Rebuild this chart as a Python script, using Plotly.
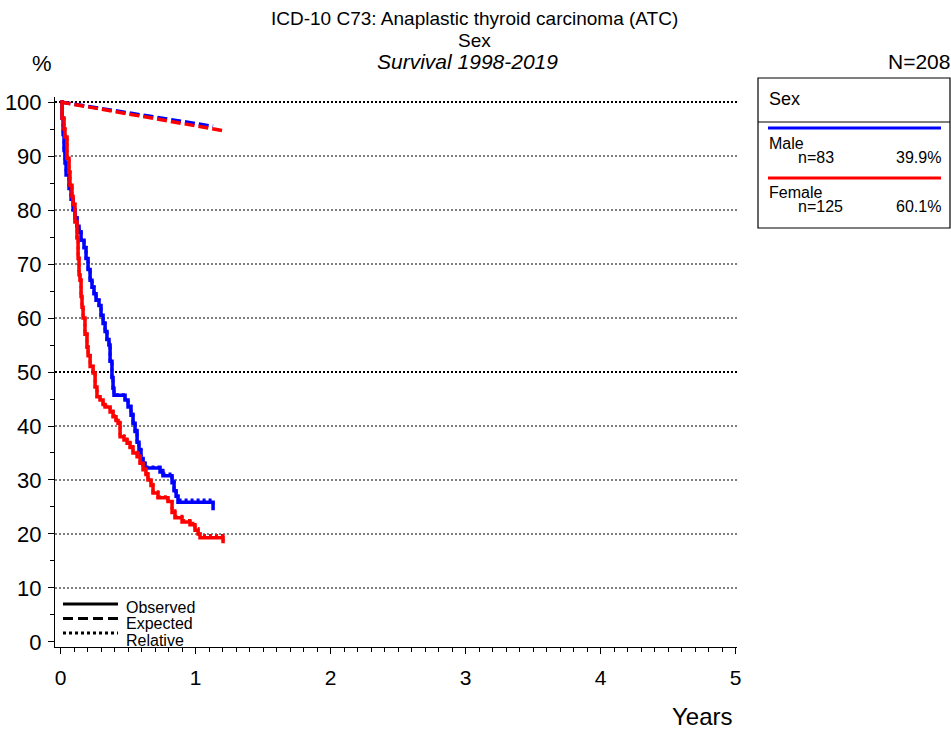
import plotly.graph_objects as go

# ---------------- data ----------------
male_time = [0.000, 0.011, 0.019, 0.026, 0.033, 0.041, 0.063, 0.078, 0.093, 0.107,
             0.122, 0.137, 0.152, 0.174, 0.189, 0.204, 0.219, 0.233, 0.248, 0.263,
             0.285, 0.300, 0.315, 0.330, 0.344, 0.359, 0.367, 0.381, 0.389, 0.396,
             0.478, 0.500, 0.522, 0.537, 0.552, 0.567, 0.581, 0.596, 0.611, 0.626,
             0.737, 0.759, 0.826, 0.841, 0.856, 0.870, 1.130]
male_observed = [100, 97, 94, 91, 88.7, 86.5, 84, 82, 80, 78.5,
                 77, 75.9, 74.4, 73, 71, 69, 67, 65.7, 64.5, 63.3,
                 62.3, 60.5, 59, 57.5, 56, 55, 52, 49, 47, 45.7,
                 44.8, 43.5, 42, 40.5, 39, 37, 35.5, 34, 33, 32.2,
                 31.5, 30.8, 29.5, 28, 27, 25.9, 24.4]
male_relative = [100, 97, 94, 91, 88.8, 86.6, 84.1, 82.1, 80.1, 78.6,
                 77.1, 76, 74.5, 73.1, 71.1, 69.1, 67.1, 65.8, 64.6, 63.4,
                 62.4, 60.6, 59.1, 57.6, 56.1, 55.1, 52.1, 49.1, 47.1, 45.8,
                 45, 43.7, 42.2, 40.7, 39.2, 37.2, 35.7, 34.2, 33.2, 32.4,
                 31.8, 31.1, 29.8, 28.3, 27.3, 26.3, 24.8]
male_exp_time = [0, 0.5, 1.0, 1.13]
male_expected = [100, 98.0, 96.0, 95.5]

female_time = [0.000, 0.011, 0.026, 0.033, 0.048, 0.063, 0.070, 0.085, 0.093, 0.107,
               0.122, 0.130, 0.137, 0.144, 0.152, 0.159, 0.167, 0.181, 0.196, 0.204,
               0.219, 0.241, 0.256, 0.270, 0.293, 0.315, 0.330, 0.367, 0.389, 0.411,
               0.426, 0.441, 0.470, 0.493, 0.515, 0.537, 0.567, 0.589, 0.611, 0.633,
               0.648, 0.670, 0.685, 0.722, 0.796, 0.826, 0.848, 0.900, 0.959, 0.996,
               1.019, 1.033, 1.204]
female_observed = [100, 97, 95, 93.5, 89.6, 87, 84.6, 82.5, 81, 77.8,
                   74.8, 71, 68, 67, 64, 62, 60, 57, 54.6, 53,
                   51, 49.8, 47.2, 45.4, 44.8, 44, 43.5, 42.6, 41.7, 41,
                   40.5, 38, 37.4, 36.8, 36, 35, 34.3, 33.1, 31.9, 31,
                   30, 29, 27.6, 26.7, 26, 24, 23, 22.2, 21.7, 20.7,
                   20, 19.3, 18.3]
female_relative = [100, 97, 95, 93.5, 89.7, 87.1, 84.7, 82.6, 81.1, 77.9,
                   74.9, 71.1, 68.1, 67.1, 64.1, 62.1, 60.1, 57.1, 54.7, 53.1,
                   51.1, 49.9, 47.3, 45.5, 44.9, 44.2, 43.7, 42.8, 41.9, 41.2,
                   40.7, 38.2, 37.6, 37, 36.2, 35.2, 34.5, 33.3, 32.1, 31.2,
                   30.2, 29.2, 27.8, 26.9, 26.3, 24.3, 23.3, 22.5, 22, 21,
                   20.4, 19.7, 18.7]
female_exp_time = [0, 0.5, 1.0, 1.204]
female_expected = [100, 97.8, 95.5, 94.7]

grid_values = [10, 20, 30, 40, 50, 60, 70, 80, 90, 100]
bold_grid = [50, 100]

groups = ["Male", "Female"]
group_n = ["n=83", "n=125"]
group_pct = ["39.9%", "60.1%"]
group_colors = ["#0000ff", "#ff0000"]

title_lines = ["ICD-10 C73: Anaplastic thyroid carcinoma (ATC)", "Sex", "Survival 1998-2019"]
line_types = ["Observed", "Expected", "Relative"]

# ---------------- layout geometry ----------------
W, H = 951, 731
L, R, T, B = 55, 737, 97, 647  # plot area in pixels
FONT = "Liberation Sans, Arial, sans-serif"


def px(x):
    return (x - L) / (R - L)


def py(y):
    return (B - y) / (B - T)


fig = go.Figure()

series = [
    (male_time, male_observed, male_relative, male_exp_time, male_expected, group_colors[0]),
    (female_time, female_observed, female_relative, female_exp_time, female_expected, group_colors[1]),
]
for t, obs, rel, et, ex, col in series:
    fig.add_trace(go.Scatter(x=et, y=ex, mode="lines",
                             line=dict(color=col, width=3.5, dash="10px,4px"),
                             hoverinfo="skip", showlegend=False))
for t, obs, rel, et, ex, col in series:
    fig.add_trace(go.Scatter(x=t, y=rel, mode="lines", line_shape="hv",
                             line=dict(color=col, width=3, dash="3px,3px"),
                             hoverinfo="skip", showlegend=False))
    fig.add_trace(go.Scatter(x=t, y=obs, mode="lines", line_shape="hv",
                             line=dict(color=col, width=3.5),
                             hoverinfo="skip", showlegend=False))

shapes = []
# dotted horizontal grid
for g in grid_values:
    w = 2 if g in bold_grid else 1.2
    shapes.append(dict(type="line", xref="paper", yref="y", x0=0, x1=1, y0=g, y1=g,
                       line=dict(color="black", width=w, dash="2px,2px"), layer="below"))

# right-hand legend box
shapes.append(dict(type="rect", xref="paper", yref="paper", x0=px(758), x1=px(950),
                   y0=py(228), y1=py(78), line=dict(color="black", width=1.2)))
shapes.append(dict(type="line", xref="paper", yref="paper", x0=px(758), x1=px(950),
                   y0=py(122), y1=py(122), line=dict(color="black", width=1.2)))
for i, (lab, col) in enumerate(zip(groups, group_colors)):
    ly = 128 + i * 50
    shapes.append(dict(type="line", xref="paper", yref="paper", x0=px(768), x1=px(941),
                       y0=py(ly), y1=py(ly), line=dict(color=col, width=3)))

# bottom-left line style legend
for i, d in enumerate(["solid", "10px,5px", "3px,3px"]):
    ly = 604 + i * 14.5
    shapes.append(dict(type="line", xref="paper", yref="paper", x0=px(63), x1=px(118),
                       y0=py(ly), y1=py(ly), line=dict(color="black", width=3, dash=d)))

ann = []


def text(x, y, s, size=14, xanchor="left", italic=False):
    ann.append(dict(x=px(x), y=py(y), xref="paper", yref="paper", text=s, showarrow=False,
                    xanchor=xanchor, yanchor="middle",
                    font=dict(family=FONT, size=size, color="black",
                              style="italic" if italic else "normal")))


text(474, 19, title_lines[0], size=19, xanchor="center")
text(474, 40, title_lines[1], size=19, xanchor="center")
text(467, 62, title_lines[2], size=21, xanchor="center", italic=True)
text(42, 64, "%", size=22, xanchor="center")
text(952, 62, "N=208", size=21, xanchor="right")
text(702, 716, "Years", size=24, xanchor="center")

text(767, 99, "Sex", size=18)
for i, (lab, n, pct) in enumerate(zip(groups, group_n, group_pct)):
    base = 143 + i * 49.5
    text(767, base, lab, size=16)
    text(796, base + 14.5, n, size=16)
    text(943, base + 14.5, pct, size=16, xanchor="right")

for i, lab in enumerate(line_types):
    text(124, 607 + i * 16.5, lab, size=16)

fig.update_layout(
    width=W, height=H,
    margin=dict(l=L, r=W - R, t=T, b=H - B, pad=0, autoexpand=False),
    paper_bgcolor="white", plot_bgcolor="white",
    shapes=shapes, annotations=ann,
    font=dict(family=FONT, color="black"),
    showlegend=False,
    xaxis=dict(range=[-0.041, 5.011], tickmode="linear", tick0=0, dtick=1, automargin=False,
               showgrid=False, zeroline=False, showline=True, linecolor="black", linewidth=1,
               ticks="outside", ticklen=6, tickcolor="black", tickwidth=1,
               tickfont=dict(family=FONT, size=21, color="black"), ticklabelstandoff=6,
               minor=dict(dtick=0.1, tick0=0, ticks="outside", ticklen=4, tickcolor="black",
                          showgrid=False)),
    yaxis=dict(range=[-0.93, 100.93], tickmode="linear", tick0=0, dtick=10, automargin=False,
               showgrid=False, zeroline=False, showline=True, linecolor="black", linewidth=1,
               ticks="outside", ticklen=6, tickcolor="black", tickwidth=1,
               tickfont=dict(family=FONT, size=22, color="black"), ticklabelstandoff=2,
               minor=dict(dtick=5, tick0=0, ticks="outside", ticklen=4, tickcolor="black",
                          showgrid=False)),
)

fig.write_html("out.html", config={"displayModeBar": False},
               post_script="document.body.style.margin='0px';")
